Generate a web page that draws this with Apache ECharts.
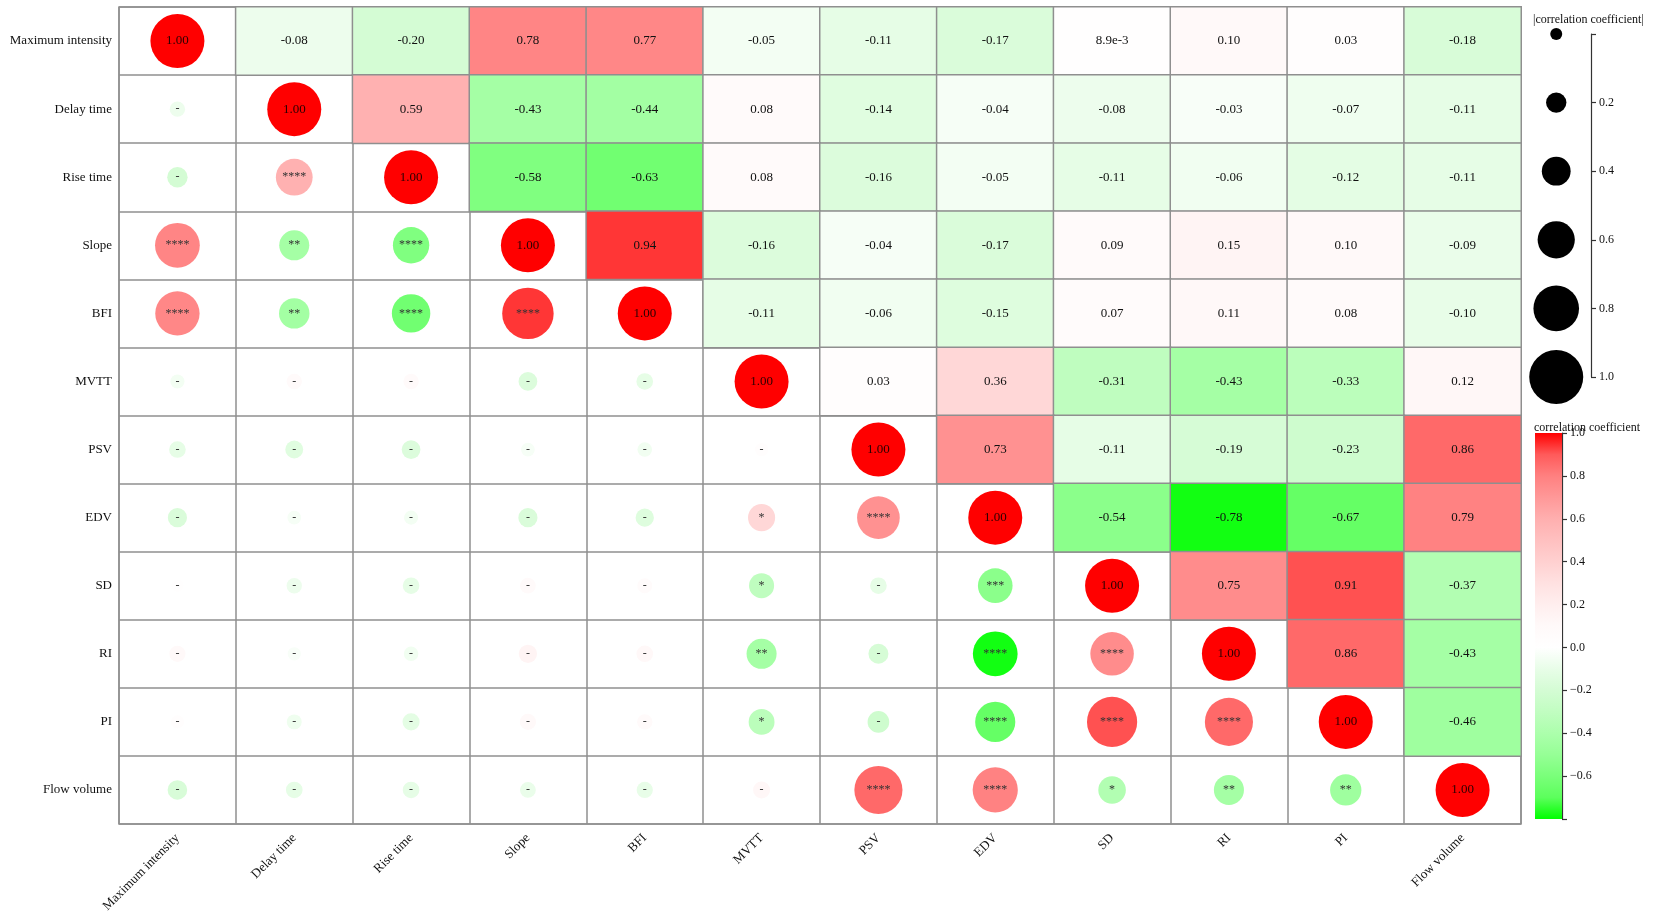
<!DOCTYPE html>
<html>
<head>
<meta charset="utf-8">
<script src="https://cdn.jsdelivr.net/npm/echarts@6/dist/echarts.min.js"></script>
<style>html,body{margin:0;padding:0;background:#fff;}#c{width:1654px;height:920px;}</style>
</head>
<body>
<div id="c"></div>
<script>
// ---- data ----
const vars = ['Maximum intensity','Delay time','Rise time','Slope','BFI','MVTT','PSV','EDV','SD','RI','PI','Flow volume'];
// upper-triangle correlation coefficients, row i, columns i+1..11
const rowMaxIntensity = [-0.08, -0.20, 0.78, 0.77, -0.05, -0.11, -0.17, 0.0089, 0.10, 0.03, -0.18];
const rowDelayTime    = [0.59, -0.43, -0.44, 0.08, -0.14, -0.04, -0.08, -0.03, -0.07, -0.11];
const rowRiseTime     = [-0.58, -0.63, 0.08, -0.16, -0.05, -0.11, -0.06, -0.12, -0.11];
const rowSlope        = [0.94, -0.16, -0.04, -0.17, 0.09, 0.15, 0.10, -0.09];
const rowBFI          = [-0.11, -0.06, -0.15, 0.07, 0.11, 0.08, -0.10];
const rowMVTT         = [0.03, 0.36, -0.31, -0.43, -0.33, 0.12];
const rowPSV          = [0.73, -0.11, -0.19, -0.23, 0.86];
const rowEDV          = [-0.54, -0.78, -0.67, 0.79];
const rowSD           = [0.75, 0.91, -0.37];
const rowRI           = [0.86, -0.43];
const rowPI           = [-0.46];
const upperRows = [rowMaxIntensity,rowDelayTime,rowRiseTime,rowSlope,rowBFI,rowMVTT,rowPSV,rowEDV,rowSD,rowRI,rowPI,[]];
// significance marks, lower triangle, row i, columns 0..i-1
const sigDelayTime  = ['-'];
const sigRiseTime   = ['-','****'];
const sigSlope      = ['****','**','****'];
const sigBFI        = ['****','**','****','****'];
const sigMVTT       = ['-','-','-','-','-'];
const sigPSV        = ['-','-','-','-','-','-'];
const sigEDV        = ['-','-','-','-','-','*','****'];
const sigSD         = ['-','-','-','-','-','*','-','***'];
const sigRI         = ['-','-','-','-','-','**','-','****','****'];
const sigPI         = ['-','-','-','-','-','*','-','****','****','****'];
const sigFlowVolume = ['-','-','-','-','-','-','****','****','*','**','**'];
const sigRows = [[],sigDelayTime,sigRiseTime,sigSlope,sigBFI,sigMVTT,sigPSV,sigEDV,sigSD,sigRI,sigPI,sigFlowVolume];
const colorTicks = [-0.8,-0.6,-0.4,-0.2,0.0,0.2,0.4,0.6,0.8,1.0];
const sizeTicks = [0, 0.2, 0.4, 0.6, 0.8, 1.0];

// ---- styles ----
const rampColors = [
  'rgb(0,255,0)','rgb(92,255,92)','rgb(122,255,122)','rgb(150,255,150)','rgb(172,255,172)',
  'rgb(193,253,193)','rgb(212,252,212)','rgb(232,253,232)','rgb(255,255,255)',
  'rgb(255,249,249)','rgb(255,238,238)','rgb(255,225,225)','rgb(255,208,208)','rgb(255,192,192)',
  'rgb(255,175,175)','rgb(255,152,152)','rgb(255,128,128)','rgb(255,90,90)','rgb(255,0,0)'
];
const FONT = '"Liberation Serif","Times New Roman",serif';
const GRID_LINE = '#8f8f8f';

// build full matrix
const n = vars.length;
const M = [];
for (let i = 0; i < n; i++) { M.push(new Array(n).fill(0)); M[i][i] = 1; }
upperRows.forEach((row, i) => row.forEach((v, k) => { const j = i + 1 + k; M[i][j] = v; M[j][i] = v; }));

const heatData = [];
const circleData = [];
for (let i = 0; i < n; i++) {
  for (let j = 0; j < n; j++) {
    if (j > i) heatData.push([j, i, M[i][j]]);
    else if (j === i) circleData.push({ value: [j, i, 1], txt: '1.00', label: { fontSize: 13, color: '#2a0000' } });
    else circleData.push({ value: [j, i, M[i][j]], txt: sigRows[i][j], label: { fontSize: 12, color: '#333' } });
  }
}
const sizeOf = v => 12 + 42 * Math.abs(v);

const stops = rampColors.map((c, k) => ({ offset: 1 - k / (rampColors.length - 1), color: c }));

const chart = echarts.init(document.getElementById('c'), null, { renderer: 'canvas' });
chart.setOption({
  animation: false,
  backgroundColor: '#fff',
  textStyle: { fontFamily: FONT },
  title: [
    { text: '|correlation coefficient|', left: 1528, top: 9, textStyle: { fontSize: 12, fontWeight: 'normal', color: '#111', fontFamily: FONT } },
    { text: 'correlation coefficient', left: 1529, top: 417, textStyle: { fontSize: 12, fontWeight: 'normal', color: '#111', fontFamily: FONT } }
  ],
  grid: [
    { left: 119, top: 7, width: 1402, height: 817, show: true, borderColor: GRID_LINE, borderWidth: 1.5, backgroundColor: '#fff' },
    { left: 1535, top: 433, width: 27, height: 386 },
    { left: 1530, top: 34, width: 61, height: 343 }
  ],
  xAxis: [
    { gridIndex: 0, type: 'category', data: vars, boundaryGap: true, position: 'bottom',
      axisLine: { show: false }, axisTick: { show: false },
      axisLabel: { rotate: 45, margin: 12, fontSize: 13, color: '#111', fontFamily: FONT, interval: 0 },
      splitLine: { show: true, interval: 0, lineStyle: { color: GRID_LINE, width: 1.5 } } },
    { gridIndex: 1, type: 'value', min: 0, max: 1, show: false },
    { gridIndex: 2, type: 'value', min: 0, max: 1, show: false }
  ],
  yAxis: [
    { gridIndex: 0, type: 'category', data: vars, inverse: true, boundaryGap: true,
      axisLine: { show: false }, axisTick: { show: false },
      axisLabel: { margin: 7, fontSize: 13, color: '#111', fontFamily: FONT, interval: 0 },
      splitLine: { show: true, interval: 0, lineStyle: { color: GRID_LINE, width: 1.5 } } },
    { gridIndex: 1, type: 'value', min: colorTicks[0], max: colorTicks[colorTicks.length - 1], interval: 0.2, position: 'right',
      axisLine: { show: true, onZero: false, lineStyle: { color: '#333', width: 1.2 } },
      axisTick: { show: true, inside: false, length: 5, lineStyle: { color: '#333', width: 1.2 } },
      axisLabel: { margin: 8, fontSize: 12, color: '#111', fontFamily: FONT,
        formatter: v => (Math.abs(v - colorTicks[0]) < 1e-6) ? '' : (Math.abs(v) < 1e-6 ? '0.0' : v.toFixed(1).replace('-', '\u2212')) },
      splitLine: { show: false } },
    { gridIndex: 2, type: 'value', min: 0, max: 1, interval: 0.2, inverse: true, position: 'right',
      axisLine: { show: true, onZero: false, lineStyle: { color: '#333', width: 1.2 } },
      axisTick: { show: true, inside: false, length: 5, lineStyle: { color: '#333', width: 1.2 } },
      axisLabel: { margin: 8, fontSize: 12, color: '#111', fontFamily: FONT,
        formatter: v => (Math.abs(v) < 1e-6) ? '' : v.toFixed(1) },
      splitLine: { show: false } }
  ],
  visualMap: {
    type: 'continuous', show: false, dimension: 2, seriesIndex: [0, 1],
    min: colorTicks[0], max: colorTicks[colorTicks.length - 1],
    inRange: { color: rampColors }
  },
  series: [
    { type: 'heatmap', xAxisIndex: 0, yAxisIndex: 0, data: heatData,
      itemStyle: { borderColor: GRID_LINE, borderWidth: 1.5 },
      label: { show: true, fontSize: 13, color: '#111', fontFamily: FONT,
        formatter: p => { const v = p.value[2]; return (v !== 0 && Math.abs(v) < 0.01) ? v.toExponential(1) : v.toFixed(2); } },
      emphasis: { disabled: true } },
    { type: 'scatter', xAxisIndex: 0, yAxisIndex: 0, data: circleData, symbol: 'circle',
      symbolSize: v => sizeOf(v[2]),
      itemStyle: { opacity: 1 },
      label: { show: true, position: 'inside', fontFamily: FONT, formatter: p => p.data.txt },
      emphasis: { disabled: true } },
    { type: 'custom', xAxisIndex: 1, yAxisIndex: 1, data: [[0, colorTicks[0], colorTicks[colorTicks.length - 1]]],
      renderItem: (params, api) => {
        const p0 = api.coord([0, api.value(2)]);
        const p1 = api.coord([1, api.value(1)]);
        return { type: 'rect', shape: { x: p0[0], y: p0[1], width: p1[0] - p0[0], height: p1[1] - p0[1] },
          style: { fill: new echarts.graphic.LinearGradient(0, 0, 0, 1, stops) } };
      }, silent: true, z: 1 },
    { type: 'scatter', xAxisIndex: 2, yAxisIndex: 2, data: sizeTicks.map(v => [0.43, v]), symbol: 'circle',
      symbolSize: v => sizeOf(v[1]), itemStyle: { color: '#000', opacity: 1 }, silent: true }
  ]
});
</script>
</body>
</html>
